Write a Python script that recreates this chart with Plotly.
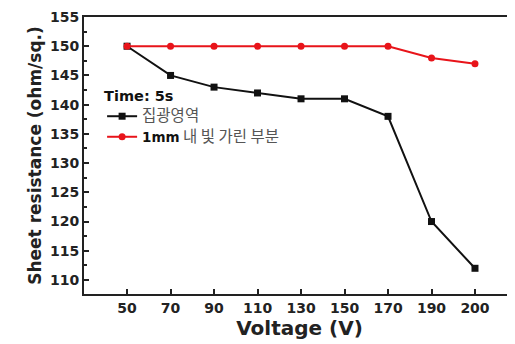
import plotly.graph_objects as go

voltage = ["50", "70", "90", "110", "130", "150", "170", "190", "200"]
focused = [150, 145, 143, 142, 141, 141, 138, 120, 112]
shaded = [150, 150, 150, 150, 150, 150, 150, 148, 147]
y_ticks = [110, 115, 120, 125, 130, 135, 140, 145, 150, 155]

xi = list(range(len(voltage)))
FONT = "DejaVu Sans"
KR = "font-family:Noto Sans CJK KR;font-size:15.5px;color:#555"

fig = go.Figure()
fig.add_trace(go.Scatter(
    x=xi, y=focused, mode="lines+markers",
    name=f"<span style='{KR}'>집광영역</span>",
    line=dict(color="#111111", width=2),
    marker=dict(symbol="square", size=7, color="#111111"),
))
fig.add_trace(go.Scatter(
    x=xi, y=shaded, mode="lines+markers",
    name=f"<b>1mm</b><span style='{KR}'> 내 빛 가린 부분</span>",
    line=dict(color="#e8141a", width=2),
    marker=dict(symbol="circle", size=7, color="#e8141a"),
))

fig.update_layout(
    width=507, height=336,
    margin=dict(l=76, r=0, t=9, b=50),
    paper_bgcolor="white", plot_bgcolor="white",
    font=dict(family=FONT, color="#111"),
    showlegend=True,
    legend=dict(
        x=0.042, y=0.765, xanchor="left", yanchor="top",
        bgcolor="rgba(0,0,0,0)",
        title=dict(text="<b>Time: 5s</b>", font=dict(size=14.5, family=FONT, color="#111")),
        font=dict(size=13.5, family=FONT, color="#111"),
        tracegroupgap=0, itemwidth=30,
    ),
    hovermode=False,
)
fig.update_xaxes(
    range=[-0.99, 8.92],
    tickvals=xi, ticktext=voltage,
    ticks="inside", ticklen=5, tickwidth=1.5, tickcolor="#222",
    showline=True, linecolor="#222", linewidth=1.8, mirror=True,
    showgrid=False, zeroline=False, automargin=False,
    tickfont=dict(size=14, family=FONT, color="#222", weight="bold"),
    title=dict(text="<b>Voltage (V)</b>", font=dict(size=20, family=FONT, color="#222"), standoff=2),
)
fig.update_yaxes(
    range=[107.6, 155],
    tickvals=y_ticks,
    ticks="inside", ticklen=5, tickwidth=1.5, tickcolor="#222",
    minor=dict(ticks="inside", ticklen=3, dtick=2.5, tick0=110, tickcolor="#222", showgrid=False),
    showline=True, linecolor="#222", linewidth=1.8,
    showgrid=False, zeroline=False, automargin=False,
    tickfont=dict(size=14, family=FONT, color="#222", weight="bold"),
    title=dict(text="<b>Sheet resistance (ohm/sq.)</b>", font=dict(size=17, family=FONT, color="#222"), standoff=4),
)

fig.write_html("out.html")
